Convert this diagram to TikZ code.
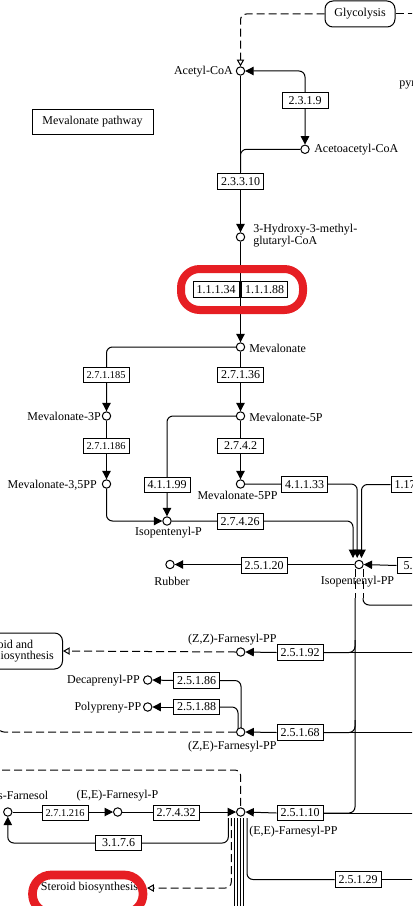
\documentclass[tikz,border=0pt]{standalone}
\usepackage{fontspec}
\setmainfont{Liberation Serif}
\usetikzlibrary{arrows.meta,backgrounds}
\definecolor{hlred}{RGB}{230,30,35}
\begin{document}
\begin{tikzpicture}[x=0.75pt,y=-0.75pt,
  every node/.style={font=\fontsize{9}{10}\selectfont, inner sep=0pt},
  cpd/.style={circle,draw,fill=white,line width=0.75pt,minimum size=6.3pt},
  ec/.style={rectangle,draw,fill=white,line width=0.75pt,minimum width=34.5pt,minimum height=11.7pt},
  ecs/.style={ec,font=\fontsize{7.8}{9}\selectfont},
  conn/.style={line width=0.75pt, rounded corners=4.5pt},
  rx/.style={conn,-{Triangle[length=6.3pt,width=6.3pt]}},
  rxb/.style={conn,{Triangle[length=6.3pt,width=6.3pt]}-{Triangle[length=6.3pt,width=6.3pt]}},
  lnk/.style={conn,dash pattern=on 6pt off 3pt},
  lnka/.style={lnk,-{Triangle[open,length=5pt,width=5.5pt]}},
  mapbox/.style={rectangle,draw,fill=white,rounded corners=6pt,line width=0.75pt},
  hl/.style={draw=hlred,line width=6pt,rounded corners=14pt}
]
\useasboundingbox (0,0) rectangle (412,906);
\clip (0,0) rectangle (412,906);

% compounds
\node[cpd] (acoa) at (240.5,71) {};
\node[anchor=east] (acoaL) at (233,72) {Acetyl-CoA};
\node[cpd] (aacoa) at (305,149.3) {};
\node[anchor=west] (aacoaL) at (314,150) {Acetoacetyl-CoA};
\node[cpd] (hmg) at (240.5,237) {};
\node[anchor=west,align=left,font=\fontsize{9}{8}\selectfont] (hmgL) at (253,235.5) {3-Hydroxy-3-methyl-\\glutaryl-CoA};
\node[cpd] (mev) at (240.5,347) {};
\node[anchor=west] (mevL) at (249,348) {Mevalonate};
\node[cpd] (mev3p) at (106.5,416) {};
\node[anchor=east] (mev3pL) at (101,416.5) {Mevalonate-3P};
\node[cpd] (mev5p) at (240.5,416) {};
\node[anchor=west] (mev5pL) at (249,417) {Mevalonate-5P};
\node[cpd] (mev35pp) at (106.5,484) {};
\node[anchor=east] (mev35ppL) at (97,485) {Mevalonate-3,5PP};
\node[cpd] (mev5pp) at (240.5,484) {};
\node (mev5ppL) at (237.5,495.5) {Mevalonate-5PP};
\node[cpd] (ip) at (167,521) {};
\node (ipL) at (168.5,533) {Isopentenyl-P};
\node[cpd] (ipp) at (359,564.5) {};
\node (ippL) at (357.5,582) {Isopentenyl-PP};
\node[cpd] (rubber) at (170,564.5) {};
\node (rubberL) at (172,581) {Rubber};
\node[cpd] (zzfpp) at (240.7,652) {};
\node (zzfppL) at (232.4,639.5) {(Z,Z)-Farnesyl-PP};
\node[cpd] (decpp) at (147.7,680) {};
\node[anchor=east] (decppL) at (140,680.5) {Decaprenyl-PP};
\node[cpd] (polypp) at (147.7,707) {};
\node[anchor=east] (polyppL) at (141.5,707.3) {Polypreny-PP};
\node[cpd] (zefpp) at (240.7,732) {};
\node (zefppL) at (232.3,746.5) {(Z,E)-Farnesyl-PP};
\node[cpd] (eefpp) at (240.7,812) {};
\node[anchor=west] (eefppL) at (249,832) {(E,E)-Farnesyl-PP};
\node[cpd] (eefp) at (117.7,812) {};
\node (eefpL) at (117.5,796) {(E,E)-Farnesyl-P};
\node[cpd] (farnesol) at (7.8,812) {};
\node[anchor=east] (farnesolL) at (48.5,796) {trans,trans-Farnesol};
\node[anchor=west] (pyrL) at (399,84) {pyruvate};

% enzymes
\node[ec] (ec2319) at (305,100.5) {2.3.1.9};
\node[ec] (ec23310) at (240.5,181.5) {2.3.3.10};
\node[ec] (ec11134) at (216,289.5) {1.1.1.34};
\node[ec] (ec11188) at (264.5,289.5) {1.1.1.88};
\node[ecs] (ec271185) at (106,375) {2.7.1.185};
\node[ec] (ec27136) at (240.5,375) {2.7.1.36};
\node[ecs] (ec271186) at (106,446) {2.7.1.186};
\node[ec] (ec2742) at (240.5,446) {2.7.4.2};
\node[ec] (ec41199) at (167,485) {4.1.1.99};
\node[ec] (ec41133) at (304.5,484.5) {4.1.1.33};
\node[ec] (ec11774) at (414,484.5) {1.17.7.4};
\node[ec] (ec27426) at (240,521.5) {2.7.4.26};
\node[ec] (ec25120) at (264,565.5) {2.5.1.20};
\node[ec] (ec5332) at (420,565.5) {5.3.3.2};
\node[ec] (ec25192) at (300,652.5) {2.5.1.92};
\node[ec] (ec25186) at (196.5,680.5) {2.5.1.86};
\node[ec] (ec25188) at (196.5,707) {2.5.1.88};
\node[ec] (ec25168) at (300,732.5) {2.5.1.68};
\node[ec] (ec25110) at (300,813) {2.5.1.10};
\node[ec] (ec27432) at (176,813) {2.7.4.32};
\node[ecs] (ec271216) at (65,813) {2.7.1.216};
\node[ec] (ec3176) at (118.5,843) {3.1.7.6};
\node[ec] (ec25129) at (358,879.5) {2.5.1.29};

% maps
\node[mapbox,minimum width=52.5pt,minimum height=19.5pt] (glyc) at (360,14) {Glycolysis};
\node[draw,line width=0.75pt,fill=white,minimum width=90.75pt,minimum height=18.75pt] (mvpath) at (92.5,121.5) {Mevalonate pathway};
\node[mapbox,anchor=east,align=left,inner xsep=6.5pt,minimum height=27pt,font=\fontsize{9}{8.2}\selectfont] (sesq) at (63,651) {Sesquiterpenoid and\\triterpenoid biosynthesis};
\node[minimum width=86pt,minimum height=20pt] (steroid) at (89.5,888) {Steroid biosynthesis};

\begin{pgfonlayer}{background}
\clip (0,0) rectangle (412,906);
\draw[lnka] (glyc.west) -| (acoa.north);
\draw[lnk] (glyc.east) -- (430,14);
\draw[rxb] (acoa.east) -| (aacoa.north);
\draw[rx] (acoa.south) -- (hmg.north);
\draw[conn] (aacoa.west) -| (240.5,172);
\draw[rx] (hmg.south) -- (mev.north);
\draw[rx] (mev.west) -| (mev3p.north);
\draw[rx] (mev.south) -- (mev5p.north);
\draw[rx] (mev3p.south) -- (mev35pp.north);
\draw[rx] (mev5p.south) -- (mev5pp.north);
\draw[rx] (mev5p.west) -| (ip.north);
\draw[rx] (mev35pp.south) |- (ip.west);
\draw[rx] (ip.east) -| (353,558);
\draw[rx] (mev5pp.east) -| (357.2,558);
\draw[rx] (ec11774.west) -| (361.5,558);
\draw[rx] (ec5332.west) -- (ipp.east);
\draw[rx] (ipp.west) -- (rubber.east);
\draw[lnk] (355,569) -- (355,598);
\draw[lnk] (363,569) -- (363,598);
\draw[conn] (355,598) |- (ec25110.east);
\draw[conn] (355,640) |- (ec25192.east);
\draw[conn] (355,720) |- (ec25168.east);
\draw[conn] (363,598) |- (430,605);
\draw[conn] (ec25192.east) -- (430,652.5);
\draw[conn] (ec25168.east) -- (430,732.5);
\draw[conn] (ec25110.east) -- (430,813);
\draw[rx] (ec25192.west) -- (zzfpp.east);
\draw[lnka] (zzfpp.west) -- (sesq.east);
\draw[rx] (ec25168.west) -- (zefpp.east);
\draw[conn] (241,728.5) |- (ec25186.east);
\draw[rx] (ec25186.west) -- (decpp.east);
\draw[conn] (238,728.5) |- (ec25188.east);
\draw[rx] (ec25188.west) -- (polypp.east);
\draw[lnk] (zefpp.west) -| (-2,700);
\draw[lnk] (-10,770) -| (eefpp.north);
\draw[rx] (ec25110.west) -- (eefpp.east);
\draw[rx] (eefp.east) -- (eefpp.west);
\draw[rx] (farnesol.east) -- (eefp.west);
\draw[conn] (228.3,818) |- (ec3176.east);
\draw[rx] (ec3176.west) -| (farnesol.south);
\draw[lnka] (231.3,818) |- (steroid.east);
\foreach \xx in {234.5,237.7,240.8,243.9} \draw[conn] (\xx,818) -- (\xx,915);
\draw[conn] (247,818) |- (ec25129.west);
\draw[conn] (ec25129.east) -- (430,879.5);
\end{pgfonlayer}

% highlights
\draw[hl] (181,269) rectangle (303,310);
\draw[hl,line width=6.5pt] (32.5,875) rectangle (143,913);
\end{tikzpicture}
\end{document}
